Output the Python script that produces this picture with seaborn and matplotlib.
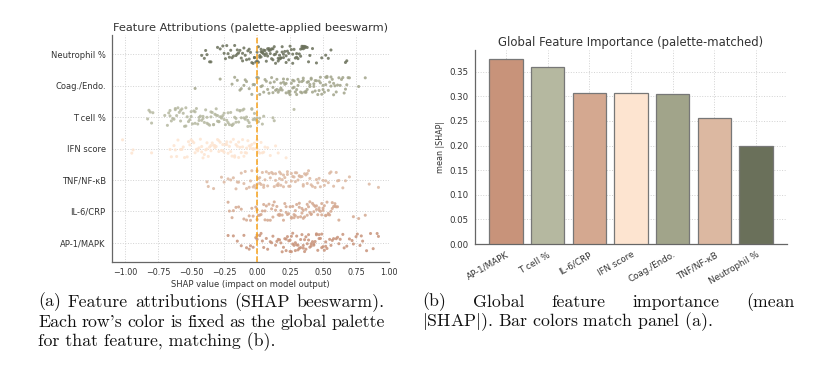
import numpy as np
import pandas as pd
import matplotlib
matplotlib.use("Agg")
import matplotlib.pyplot as plt
import seaborn as sns

# ---------------- data ----------------
features = ["Neutrophil %", "Coag./Endo.", "T cell %", "IFN score",
            "TNF/NF-κB", "IL-6/CRP", "AP-1/MAPK"]

palette = {
    "AP-1/MAPK": "#c8937a",
    "T cell %": "#b5b8a0",
    "IL-6/CRP": "#d4a890",
    "IFN score": "#fde4d0",
    "Coag./Endo.": "#a1a48a",
    "TNF/NF-κB": "#dcb8a1",
    "Neutrophil %": "#6a705a",
}

shap_neutrophil = [-0.42, -0.40, -0.39, -0.38, -0.36, -0.35, -0.30, -0.28, -0.26, -0.25, -0.23, -0.22,
                   -0.21, -0.20, -0.19, -0.18, -0.17, -0.16, -0.15, -0.14, -0.13, -0.12, -0.11, -0.10,
                   -0.09, -0.08, -0.07, -0.06, -0.05, -0.04, -0.03, -0.02, -0.01, 0.00, 0.00, 0.01,
                   0.02, 0.02, 0.03, 0.03, 0.04, 0.05, 0.05, 0.06, 0.07, 0.07, 0.08, 0.09, 0.10, 0.10,
                   0.11, 0.12, 0.13, 0.13, 0.14, 0.15, 0.16, 0.17, 0.18, 0.18, 0.19, 0.20, 0.21, 0.22,
                   0.23, 0.24, 0.25, 0.26, 0.27, 0.28, 0.29, 0.30, 0.31, 0.32, 0.33, 0.34, 0.35, 0.35,
                   0.36, 0.37, 0.38, 0.40, 0.42, 0.45, 0.49, 0.52, 0.54, 0.56, 0.67, 0.68,
                   -0.24, -0.15, -0.11, -0.06, -0.02, 0.01, 0.03, 0.04, 0.06, 0.08, 0.09, 0.11,
                   0.12, 0.14, 0.16, 0.17, 0.19, 0.20, 0.22, 0.24, 0.27, 0.30, 0.33, 0.34, 0.36, 0.39]
shap_coag = [-0.47, -0.28, -0.19, -0.17, -0.15, -0.13, -0.12, -0.10, -0.08, -0.06, -0.04, -0.02, 0.00,
             0.00, 0.01, 0.02, 0.03, 0.05, 0.06, 0.07, 0.08, 0.09, 0.10, 0.11, 0.12, 0.13, 0.14, 0.15,
             0.15, 0.16, 0.17, 0.18, 0.19, 0.20, 0.20, 0.21, 0.22, 0.23, 0.24, 0.25, 0.25, 0.26, 0.27,
             0.28, 0.29, 0.30, 0.30, 0.31, 0.32, 0.33, 0.34, 0.35, 0.35, 0.36, 0.37, 0.38, 0.39, 0.40,
             0.40, 0.41, 0.42, 0.43, 0.44, 0.45, 0.46, 0.47, 0.48, 0.49, 0.50, 0.51, 0.52, 0.53, 0.54,
             0.55, 0.56, 0.57, 0.58, 0.59, 0.60, 0.62, 0.63, 0.65, 0.66, 0.68, 0.69, 0.70, 0.77, 0.82,
             -0.09, -0.03, 0.04, 0.12, 0.18, 0.22, 0.27, 0.31, 0.34, 0.37, 0.41, 0.44, 0.47, 0.50,
             0.53, 0.56, 0.61, 0.64, 0.67, 0.24, 0.28, 0.38, 0.43, 0.48, 0.52, 0.58]
shap_tcell = [-0.83, -0.82, -0.81, -0.80, -0.79, -0.70, -0.68, -0.67, -0.66, -0.65, -0.64, -0.63, -0.62,
              -0.61, -0.60, -0.59, -0.58, -0.57, -0.56, -0.55, -0.54, -0.53, -0.52, -0.51, -0.50, -0.49,
              -0.48, -0.47, -0.46, -0.45, -0.44, -0.43, -0.42, -0.41, -0.40, -0.39, -0.38, -0.37, -0.36,
              -0.35, -0.34, -0.33, -0.32, -0.31, -0.30, -0.30, -0.29, -0.28, -0.27, -0.26, -0.25, -0.24,
              -0.23, -0.22, -0.21, -0.20, -0.19, -0.18, -0.17, -0.16, -0.15, -0.14, -0.13, -0.12, -0.11,
              -0.10, -0.09, -0.08, -0.07, -0.06, -0.05, -0.04, -0.03, -0.02, -0.01, 0.00, 0.02, 0.04,
              0.05, 0.12, 0.13, 0.28,
              -0.66, -0.62, -0.58, -0.54, -0.50, -0.47, -0.44, -0.41, -0.38, -0.35, -0.33, -0.31,
              -0.29, -0.27, -0.25, -0.22, -0.19, -0.16, -0.13, -0.10, -0.07, -0.04, -0.02, 0.01]
shap_ifn = [-1.02, -0.95, -0.94, -0.80, -0.66, -0.65, -0.63, -0.62, -0.60, -0.58, -0.56, -0.55, -0.53,
            -0.52, -0.50, -0.49, -0.48, -0.47, -0.46, -0.45, -0.44, -0.43, -0.42, -0.41, -0.40, -0.39,
            -0.38, -0.37, -0.36, -0.35, -0.34, -0.33, -0.32, -0.31, -0.30, -0.29, -0.28, -0.27, -0.26,
            -0.25, -0.24, -0.23, -0.22, -0.21, -0.20, -0.19, -0.18, -0.17, -0.16, -0.15, -0.14, -0.13,
            -0.12, -0.11, -0.10, -0.09, -0.08, -0.07, -0.06, -0.05, -0.04, -0.03, -0.02, -0.01, 0.00,
            0.01, 0.02, 0.04, 0.06, 0.08, 0.10, 0.14, 0.16, 0.22,
            -0.61, -0.57, -0.51, -0.45, -0.42, -0.38, -0.35, -0.32, -0.29, -0.26, -0.23, -0.20,
            -0.17, -0.14, -0.11, -0.08, -0.05, -0.03, 0.00, 0.03, 0.05]
shap_tnf = [-0.38, -0.37, -0.33, -0.27, -0.25, -0.22, -0.20, -0.18, -0.16, -0.14, -0.12, -0.10, -0.08,
            -0.06, -0.05, -0.04, -0.02, -0.01, 0.00, 0.01, 0.02, 0.03, 0.04, 0.05, 0.06, 0.07, 0.08,
            0.10, 0.11, 0.12, 0.13, 0.14, 0.15, 0.16, 0.17, 0.17, 0.18, 0.19, 0.20, 0.21, 0.22, 0.23,
            0.24, 0.25, 0.26, 0.27, 0.28, 0.29, 0.30, 0.31, 0.32, 0.33, 0.34, 0.35, 0.36, 0.37, 0.38,
            0.39, 0.40, 0.42, 0.44, 0.45, 0.47, 0.48, 0.50, 0.52, 0.54, 0.56, 0.58, 0.60, 0.62, 0.65,
            0.67, 0.70, 0.85, 0.92,
            -0.15, -0.09, -0.03, 0.00, 0.02, 0.05, 0.09, 0.14, 0.16, 0.18, 0.20, 0.23, 0.26, 0.29,
            0.32, 0.35, 0.38, 0.41, 0.46, 0.51, 0.55, 0.61]
shap_il6 = [-0.22, -0.21, -0.19, -0.18, -0.16, -0.14, -0.12, -0.10, -0.08, -0.06, -0.05, -0.03, -0.01,
            0.00, 0.01, 0.02, 0.03, 0.04, 0.05, 0.06, 0.07, 0.08, 0.09, 0.10, 0.11, 0.12, 0.13, 0.14,
            0.15, 0.16, 0.17, 0.18, 0.19, 0.20, 0.21, 0.22, 0.23, 0.24, 0.25, 0.26, 0.27, 0.28, 0.29,
            0.30, 0.31, 0.32, 0.33, 0.34, 0.35, 0.36, 0.37, 0.38, 0.39, 0.40, 0.41, 0.42, 0.43, 0.44,
            0.45, 0.46, 0.47, 0.48, 0.49, 0.50, 0.51, 0.52, 0.53, 0.54, 0.55, 0.56, 0.57, 0.58, 0.59,
            0.60, 0.61, 0.62, 0.73, 0.77, 0.82,
            -0.04, 0.00, 0.06, 0.12, 0.17, 0.22, 0.26, 0.29, 0.32, 0.35, 0.38, 0.41, 0.43, 0.45,
            0.47, 0.49, 0.50, 0.52, 0.54, 0.57, 0.59, 0.28, 0.34, 0.40]
shap_ap1 = [-0.22, -0.18, -0.15, -0.12, -0.10, -0.08, -0.06, -0.05, -0.03, -0.01, 0.00, 0.00, 0.02,
            0.04, 0.05, 0.07, 0.08, 0.10, 0.12, 0.14, 0.15, 0.16, 0.18, 0.19, 0.20, 0.21, 0.22, 0.23,
            0.24, 0.25, 0.26, 0.27, 0.28, 0.29, 0.30, 0.31, 0.32, 0.33, 0.34, 0.35, 0.36, 0.37, 0.38,
            0.39, 0.40, 0.41, 0.42, 0.43, 0.44, 0.45, 0.46, 0.47, 0.48, 0.49, 0.50, 0.51, 0.52, 0.53,
            0.55, 0.57, 0.58, 0.60, 0.62, 0.63, 0.65, 0.68, 0.70, 0.72, 0.75, 0.76, 0.78, 0.80, 0.83,
            0.86, 0.88, 0.91, 0.92,
            0.03, 0.11, 0.17, 0.22, 0.25, 0.27, 0.29, 0.31, 0.33, 0.35, 0.37, 0.39, 0.41, 0.43,
            0.45, 0.47, 0.49, 0.52, 0.56, 0.61, 0.66, 0.73, 0.79, 0.26, 0.30, 0.36]

shap_rows = {
    "Neutrophil %": shap_neutrophil,
    "Coag./Endo.": shap_coag,
    "T cell %": shap_tcell,
    "IFN score": shap_ifn,
    "TNF/NF-κB": shap_tnf,
    "IL-6/CRP": shap_il6,
    "AP-1/MAPK": shap_ap1,
}

bar_features = ["AP-1/MAPK", "T cell %", "IL-6/CRP", "IFN score",
                "Coag./Endo.", "TNF/NF-κB", "Neutrophil %"]
bar_values = [0.375, 0.359, 0.307, 0.307, 0.305, 0.255, 0.199]

xticks_a = [-1.00, -0.75, -0.50, -0.25, 0.00, 0.25, 0.50, 0.75, 1.00]
yticks_b = [0.00, 0.05, 0.10, 0.15, 0.20, 0.25, 0.30, 0.35]

caption_a = ["(a) Feature attributions (SHAP beeswarm).",
             "Each row's color is fixed as the global palette",
             "for that feature, matching (b)."]
caption_b = ["(b) Global feature importance (mean",
             r"$|$SHAP$|$). Bar colors match panel (a)."]

# ---------------- figure ----------------
sns.set_theme(style="white")
plt.rcParams["font.family"] = ["DejaVu Sans"]
plt.rcParams["mathtext.fontset"] = "cm"
np.random.seed(3)

W, H = 831, 368
fig = plt.figure(figsize=(W / 100, H / 100), dpi=100)
fig.patch.set_facecolor("white")

TXT = "#333333"
GRID = dict(color="#d2d2d2", linestyle=":", linewidth=0.7)


def style_axes(ax):
    for s in ["top", "right"]:
        ax.spines[s].set_visible(False)
    for s in ["left", "bottom"]:
        ax.spines[s].set_color("#666666")
        ax.spines[s].set_linewidth(0.9)
    ax.tick_params(axis="both", colors="#666666", labelcolor=TXT, length=2.5, width=0.6, pad=2)
    ax.set_axisbelow(True)


# ---- panel (a): beeswarm ----
df = pd.DataFrame([(f, v) for f in features for v in shap_rows[f]], columns=["feature", "shap"])
ax1 = fig.add_axes([112 / W, 1 - 262 / H, (389 - 112) / W, (262 - 35) / H])
style_axes(ax1)
sns.stripplot(data=df, x="shap", y="feature", hue="feature", order=features,
              hue_order=features, palette=palette, jitter=0.3, size=2.2,
              alpha=0.85, linewidth=0, legend=False, ax=ax1, zorder=3)
ax1.axvline(0, color="#f7a21b", linestyle="--", linewidth=1.1, zorder=4)
ax1.set_xlim(-1.1, 1.0)
ax1.set_ylim(6.62, -0.62)
ax1.set_xticks(xticks_a)
ax1.set_xticklabels([f"{t:.2f}".replace("-", "−") for t in xticks_a])
ax1.tick_params(axis="x", labelsize=5.8)
ax1.tick_params(axis="y", labelsize=6.0)
ax1.grid(True, axis="both", **GRID)
ax1.set_ylabel("")
ax1.set_xlabel("SHAP value (impact on model output)", fontsize=6.0, color=TXT, labelpad=2)
ax1.set_title("Feature Attributions (palette-applied beeswarm)", fontsize=8.2, color=TXT, pad=3)

# ---- panel (b): bars ----
ax2 = fig.add_axes([475 / W, 1 - 244 / H, (787 - 475) / W, (244 - 50) / H])
style_axes(ax2)
sns.barplot(x=bar_features, y=bar_values, hue=bar_features, palette=palette,
            order=bar_features, saturation=1, edgecolor="#777777", linewidth=0.9,
            legend=False, ax=ax2, zorder=3)
ax2.set_ylim(0, 0.394)
ax2.set_xlim(-0.74, 6.74)
ax2.set_yticks(yticks_b)
ax2.set_yticklabels([f"{t:.2f}" for t in yticks_b])
ax2.tick_params(axis="y", labelsize=6.2)
ax2.tick_params(axis="x", labelsize=6.3)
ax2.grid(True, axis="both", **GRID)
plt.setp(ax2.get_xticklabels(), rotation=30, ha="right", rotation_mode="anchor")
ax2.set_ylabel("mean |SHAP|", fontsize=5.8, color=TXT, labelpad=3)
ax2.set_title("Global Feature Importance (palette-matched)", fontsize=8.4, color=TXT, pad=3)

# ---- captions (justified like LaTeX) ----
CAP = dict(fontsize=12.8, family=["cmr10", "DejaVu Serif"], color="#111111", va="center", ha="left")
fig.canvas.draw()
renderer = fig.canvas.get_renderer()


def place_line(text, x0, x1, y, justify):
    words = text.split(" ")
    if not justify:
        fig.text(x0 / W, 1 - y / H, text, **CAP)
        return
    objs = [fig.text(0, 1 - y / H, w, **CAP) for w in words]
    widths = [o.get_window_extent(renderer).width for o in objs]
    gap = ((x1 - x0) - sum(widths)) / (len(words) - 1)
    x = x0
    for o, w in zip(objs, widths):
        o.set_x(x / W)
        x += w + gap


ys = [302, 322, 342]
for i, line in enumerate(caption_a):
    place_line(line, 38, 385, ys[i], justify=(i < len(caption_a) - 1))
for i, line in enumerate(caption_b):
    place_line(line, 422, 795, ys[i], justify=(i < len(caption_b) - 1))

fig.savefig("out.png", dpi=100, facecolor="white")
